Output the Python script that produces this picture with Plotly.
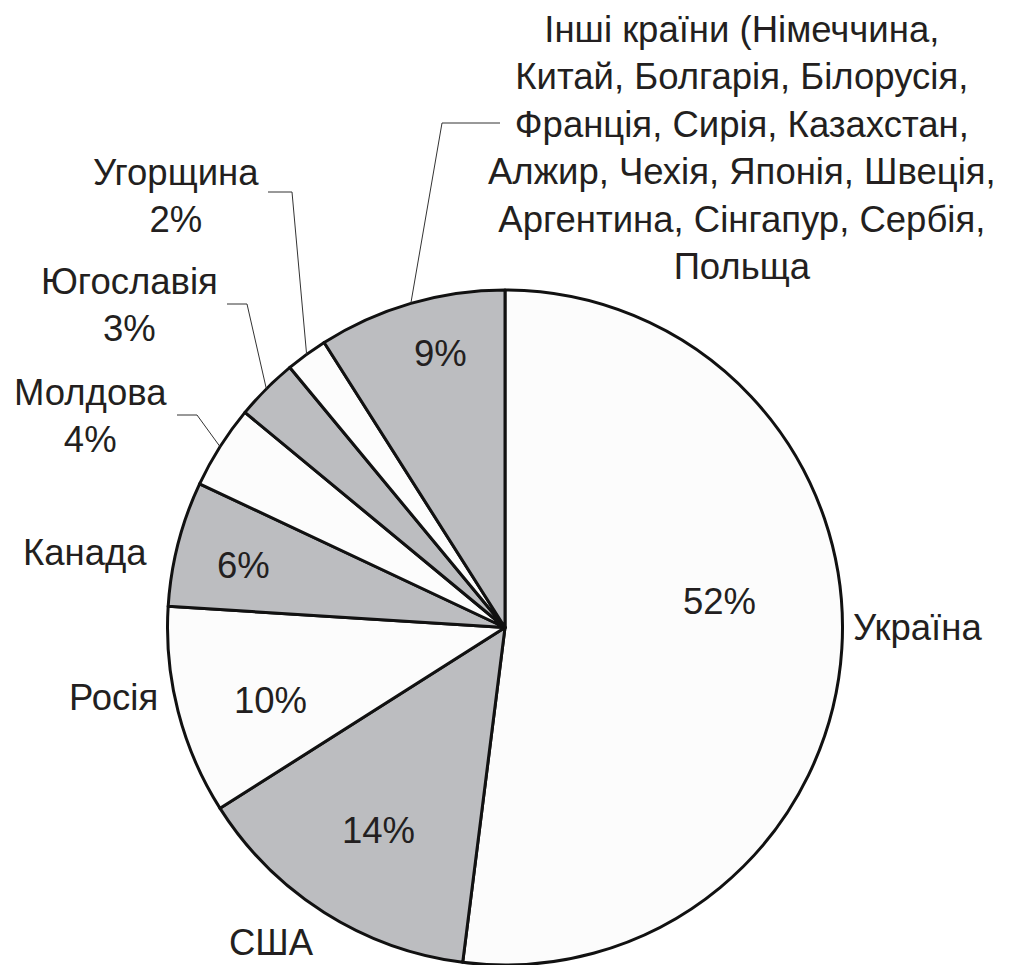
import math
import plotly.graph_objects as go

W, H = 1019, 965

# ---- data ----
countries = ["Україна", "США", "Росія", "Канада", "Молдова", "Югославія", "Угорщина",
             "Інші країни (Німеччина,<br>Китай, Болгарія, Білорусія,<br>Франція, Сирія, Казахстан,<br>Алжир, Чехія, Японія, Швеція,<br>Аргентина, Сінгапур, Сербія,<br>Польща"]
shares = [52, 14, 10, 6, 4, 3, 2, 9]
show_pct_outside = [False, False, False, False, True, True, True, False]

# ---- style ----
GRAY = "#bcbdc0"
LIGHT = "#fcfcfc"
colors = [LIGHT, GRAY, LIGHT, GRAY, LIGHT, GRAY, LIGHT, GRAY]
FONT = "Liberation Sans, Arial, sans-serif"
FS = 36.5
TXT = "#231f20"

CX, CY, R = 505, 627.5, 337.5  # pie centre / radius in pixels

# label anchors (pixels); None y-anchor means centred
name_pos = [(917, 627), (271, 965), (113, 697), (85, 552), (90, 416), (129, 305), (176, 196), (742, 148)]
name_yanchor = ["middle", "bottom", "middle", "middle", "middle", "middle", "middle", "middle"]
pct_pos = [(719, 601), (378, 830), (270, 700), (243, 565), None, None, None, (440, 354)]
# leader elbows: (x_start, x_elbow, y)
leaders = {4: (177, 197, 415), 5: (227, 247, 304), 6: (268, 292, 192), 7: (500, 442, 123)}


def px(x):
    return x / W


def py(y):
    return 1 - y / H


fig = go.Figure()
fig.add_trace(go.Pie(
    values=shares, labels=[c.split("<br>")[0] for c in countries],
    sort=False, direction="clockwise", rotation=0,
    marker=dict(colors=colors, line=dict(color="#111111", width=3)),
    textinfo="none", hoverinfo="label+percent", showlegend=False,
    domain=dict(x=[px(CX - R), px(CX + R)], y=[py(CY + R), py(CY - R)]),
))

annotations = []
shapes = []
total = sum(shares)
cum = 0
for i, (name, v) in enumerate(zip(countries, shares)):
    pct = round(100 * v / total)
    mid = (cum + v / 2) / total * 2 * math.pi
    cum += v
    txt = name + (f"<br>{pct}%" if show_pct_outside[i] else "")
    nx, ny = name_pos[i]
    annotations.append(dict(x=px(nx), y=py(ny), xref="paper", yref="paper", text=txt,
                            showarrow=False, xanchor="center", yanchor=name_yanchor[i], align="center",
                            font=dict(family=FONT, size=FS, color=TXT)))
    if pct_pos[i] is not None:
        tx, ty = pct_pos[i]
        annotations.append(dict(x=px(tx), y=py(ty), xref="paper", yref="paper", text=f"{pct}%",
                                showarrow=False, xanchor="center", yanchor="middle",
                                font=dict(family=FONT, size=FS, color=TXT)))
    if i in leaders:
        x0, x1, yl = leaders[i]
        ex = CX + R * math.sin(mid)
        ey = CY - R * math.cos(mid)
        path = f"M {px(x0)},{py(yl)} L {px(x1)},{py(yl)} L {px(ex)},{py(ey)}"
        shapes.append(dict(type="path", xref="paper", yref="paper", path=path,
                           line=dict(color="#333333", width=1)))

fig.update_layout(
    width=W, height=H, margin=dict(l=0, r=0, t=0, b=0),
    paper_bgcolor="white", plot_bgcolor="white",
    annotations=annotations, shapes=shapes,
)
fig.write_html("out.html", config={"displayModeBar": False},
               post_script="document.body.style.margin='0';document.body.style.overflow='hidden';")
